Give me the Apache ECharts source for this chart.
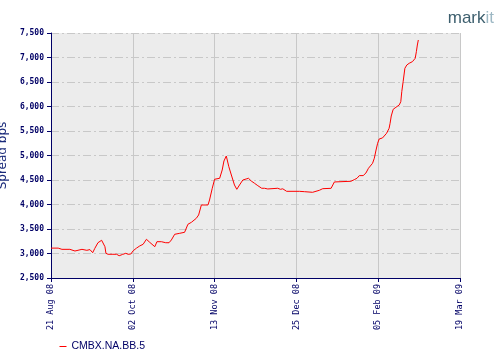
<!DOCTYPE html>
<html>
<head>
<meta charset="utf-8">
<script src="https://cdn.jsdelivr.net/npm/echarts@6/dist/echarts.min.js"></script>
<style>html,body{margin:0;padding:0;background:#fff;}#c{width:500px;height:360px;}</style>
</head>
<body>
<div id="c"></div>
<script>
// days since 21 Aug 08
var days = [0,3.7,4.3,5.6,9.7,10.2,12.3,13.3,15.9,16.4,18.4,19.0,20.0,21.4,22.5,24.1,26.0,26.8,27.7,28.2,29.3,31.8,33.7,35.0,36.7,38.4,39.6,41.0,42.2,43.9,45.6,47.3,49.0,50.7,53.3,54.4,56.7,58.9,60.6,61.8,63.5,66.1,68.6,70.3,72.1,74.6,75.8,77.2,80.6,81.4,82.8,84.0,84.9,86.6,87.1,87.9,88.8,90.0,90.5,91.3,92.6,94.2,95.4,96.8,98.5,100.2,101.4,102.8,104.5,106.2,108.2,109.6,111.3,112.2,116.4,117.8,119.0,119.9,121.0,127.5,130.1,130.6,134.3,135.2,137.8,139.5,143.8,144.6,145.5,146.3,154.0,155.7,157.1,158.3,159.1,160.3,161.7,163.0,165.1,166.0,166.9,167.7,168.5,170.2,171.1,172.3,173.6,174.1,174.7,175.7,177.1,178.8,179.6,180.1,180.8,181.7,182.7,183.9,185.6,187.0,187.6,188.1,188.6];
var spread = [3110,3110,3126,3085,3085,3051,3051,3085,3085,3065,3065,3090,3080,3016,3105,3220,3270,3240,3139,3004,2984,2984,2984,2955,2980,3004,2984,2990,3057,3110,3155,3188,3290,3228,3139,3241,3241,3220,3220,3276,3392,3412,3433,3596,3637,3718,3786,3990,3990,4092,4331,4515,4535,4535,4510,4704,4888,4990,4960,4772,4602,4398,4310,4398,4500,4521,4535,4480,4433,4384,4331,4331,4317,4331,4331,4310,4320,4296,4269,4269,4262,4249,4249,4262,4290,4323,4330,4364,4460,4474,4474,4507,4535,4589,4575,4590,4643,4739,4841,4943,5112,5249,5337,5358,5384,5453,5555,5657,5806,5943,5984,6031,6098,6302,6506,6780,6847,6882,6916,6984,7119,7255,7357];
var xTickLabels = ['21 Aug 08','02 Oct 08','13 Nov 08','25 Dec 08','05 Feb 09','19 Mar 09'];
var seriesName = 'CMBX.NA.BB.5';
var yAxisName = 'Spread bps';

var navy = '#000066';
var pts = days.map(function(d,i){return [d, spread[i]];});
var chart = echarts.init(document.getElementById('c'), null, {renderer:'canvas'});
chart.setOption({
  animation:false,
  backgroundColor:'#ffffff',
  color:['#ff0000'],
  grid:{left:51,right:40,top:33,bottom:82,show:true,backgroundColor:'#ececec',borderWidth:0,containLabel:false,outerBoundsMode:'none'},
  xAxis:{
    type:'value',min:0,max:210,interval:42,
    axisLine:{show:true,lineStyle:{color:navy,width:1}},
    axisTick:{show:true,length:4,lineStyle:{color:navy}},
    splitLine:{show:true,lineStyle:{color:'#c8c8c8',width:1,type:'solid'}},
    axisLabel:{rotate:90,color:navy,fontFamily:'DejaVu Sans Mono',fontSize:8.5,margin:6,
      formatter:function(v){var k=Math.round(v/42);return xTickLabels[k]||'';}}
  },
  yAxis:{
    type:'value',min:2500,max:7500,interval:500,
    name:yAxisName,nameLocation:'middle',nameGap:37,nameRotate:90,
    nameTextStyle:{color:'#1a2a7a',fontFamily:'DejaVu Sans',fontSize:12},
    axisLine:{show:true,lineStyle:{color:navy,width:1}},
    axisTick:{show:true,length:4,lineStyle:{color:navy}},
    splitLine:{show:true,lineStyle:{color:'#c8c8c8',width:1,type:[8,3,2,3]}},
    axisLabel:{color:navy,fontFamily:'DejaVu Sans Mono',fontWeight:'bold',fontSize:8,margin:7,
      formatter:function(v){return String(v).replace(/\B(?=(\d{3})+(?!\d))/g, ',');}}
  },
  legend:{
    left:54,top:336,itemWidth:7,itemHeight:6,
    lineStyle:{color:'#ff0000',width:1},
    itemStyle:{opacity:0},
    textStyle:{color:navy,fontFamily:'Liberation Sans',fontSize:10.5},
    data:[seriesName]
  },
  graphic:[{
    type:'text',right:6,top:10,
    style:{text:'{a|mark}{b|it}',rich:{a:{fill:'#3d5f6e',fontFamily:'Liberation Sans',fontSize:17},b:{fill:'#9db8c4',fontFamily:'Liberation Sans',fontSize:17}}}
  }],
  series:[{
    name:seriesName,type:'line',data:pts,showSymbol:false,symbol:'none',
    lineStyle:{color:'#ff0000',width:1},itemStyle:{color:'#ff0000'}
  }]
});
</script>
</body>
</html>
